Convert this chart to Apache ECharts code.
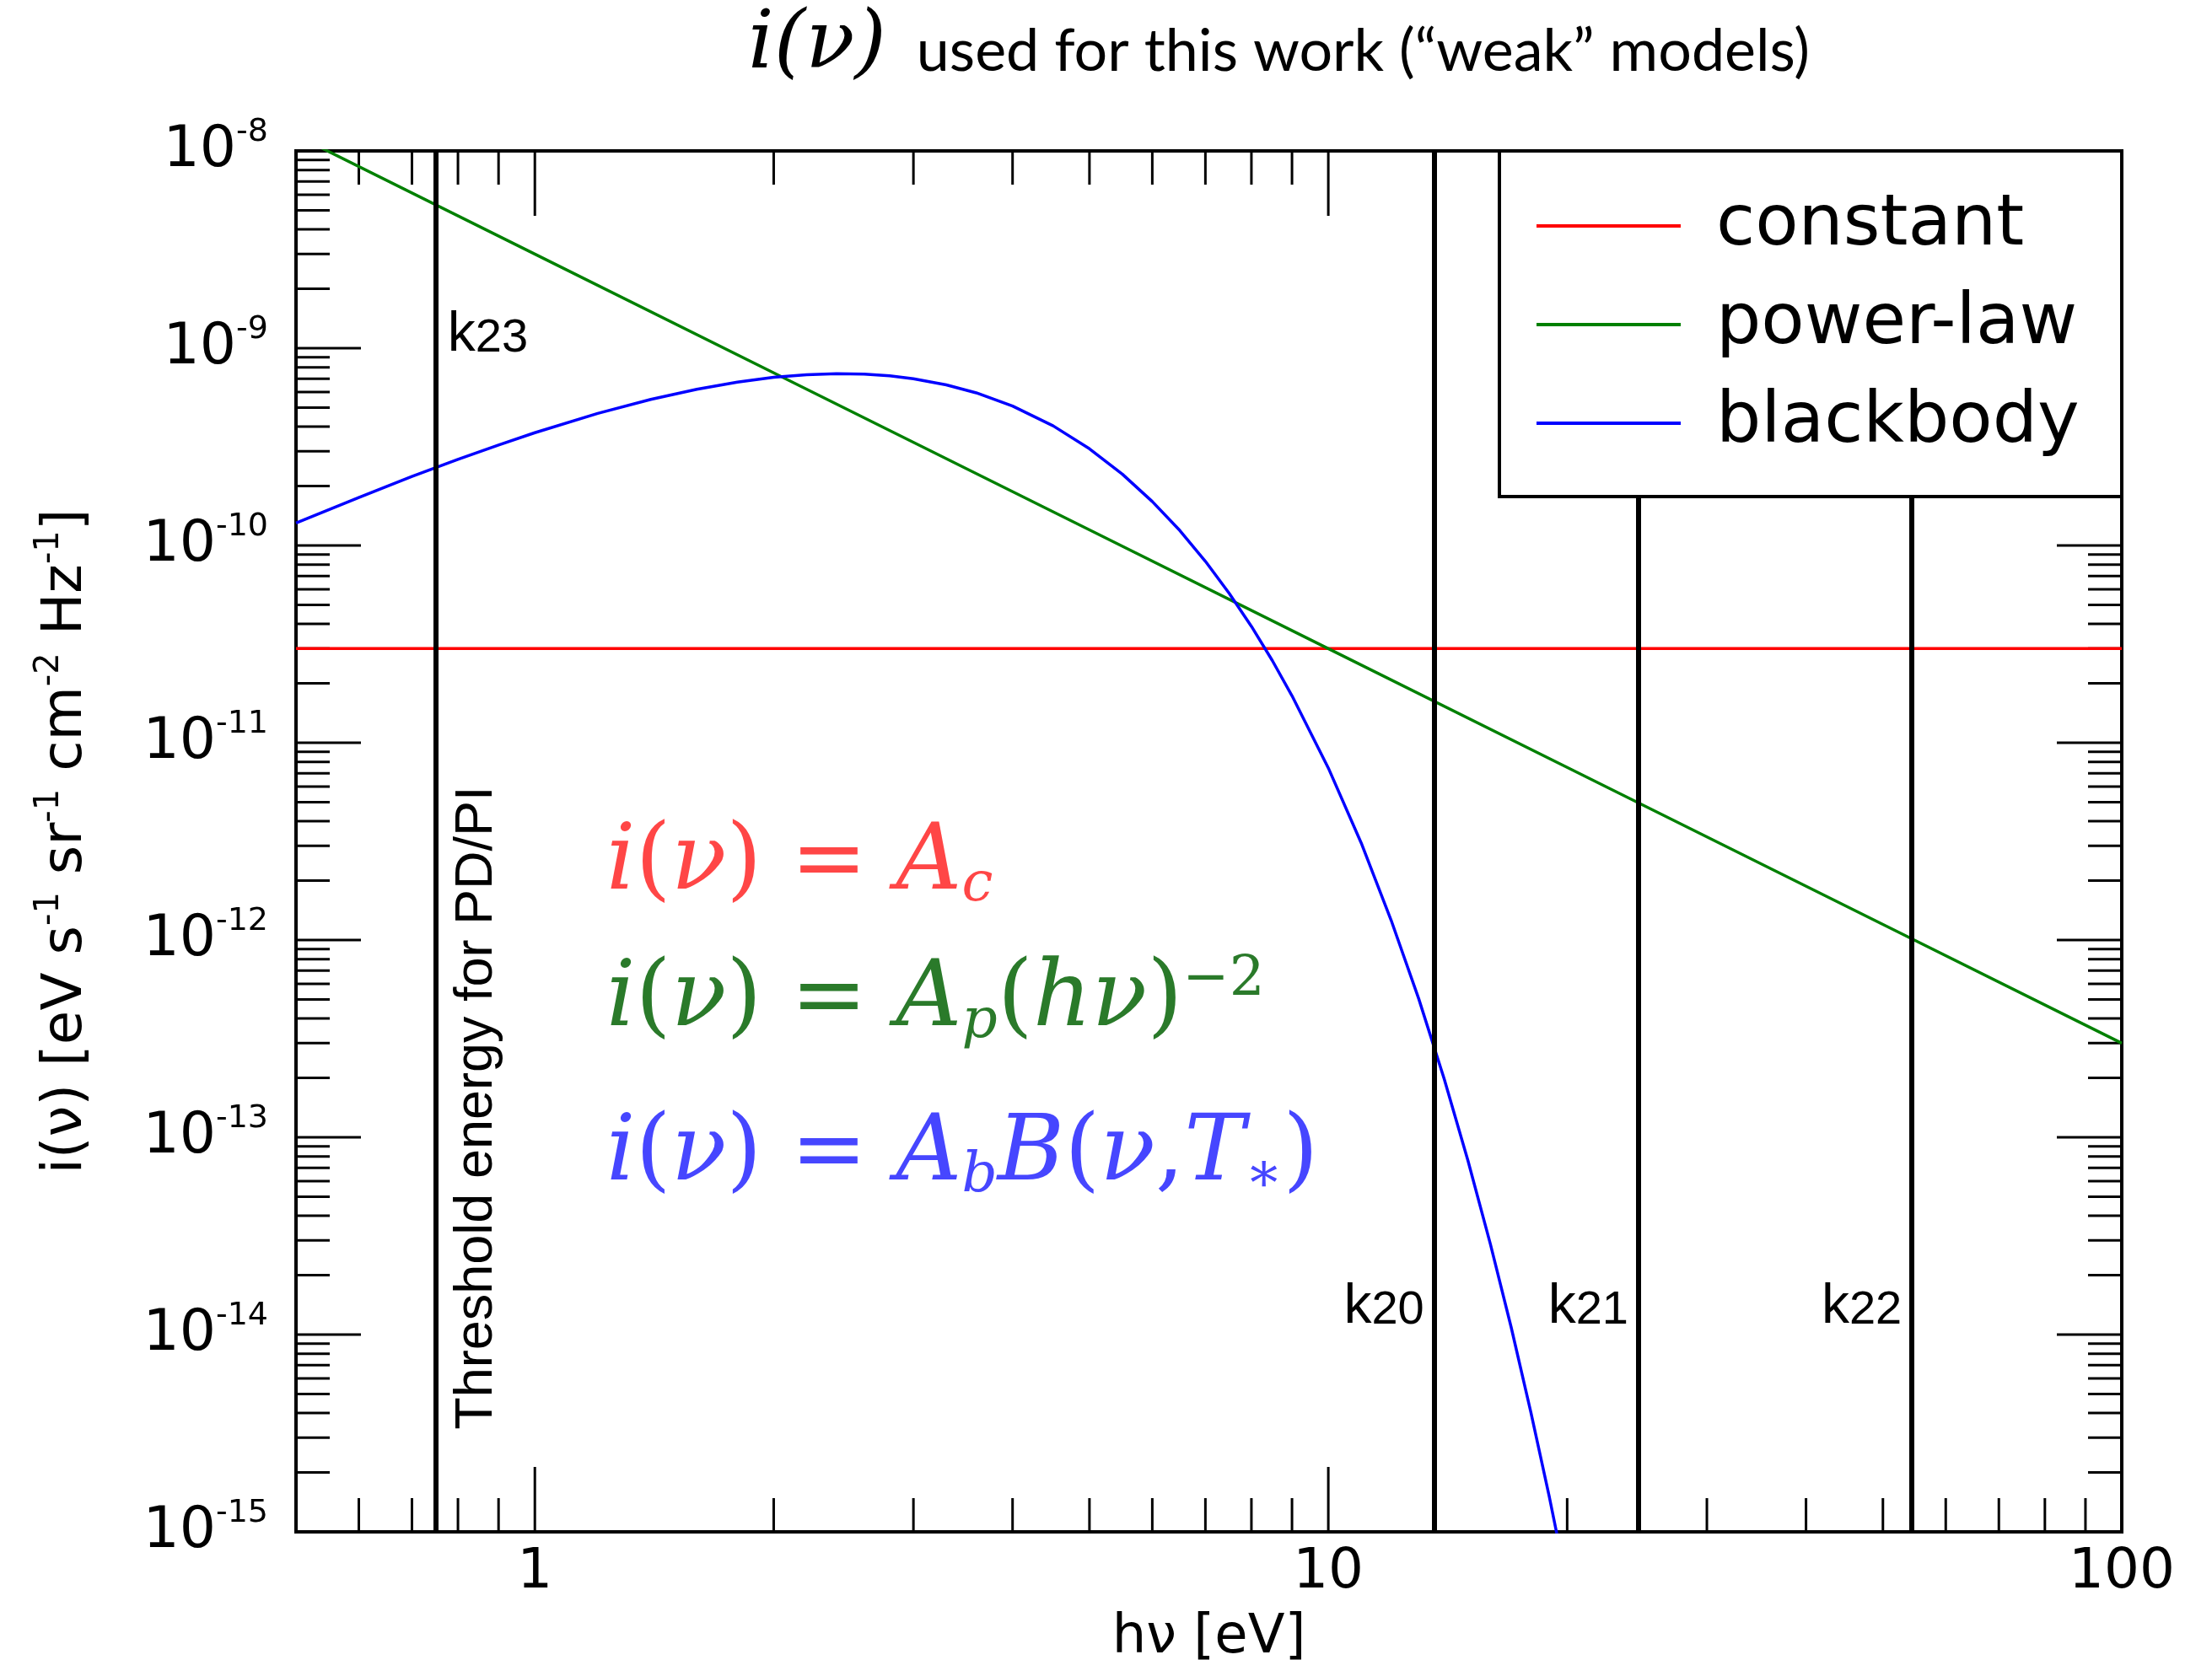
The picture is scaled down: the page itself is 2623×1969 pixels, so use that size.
<!DOCTYPE html>
<html><head><meta charset="utf-8">
<script src="https://cdn.jsdelivr.net/npm/echarts/dist/echarts.min.js"></script>
<style>html,body{margin:0;padding:0;background:#fff}#c{width:2623px;height:1969px}</style>
</head><body><div id="c"></div>
<script>
// ---------- data ----------
const X_MIN = 0.5, X_MAX = 100;
const Y_MIN = 1e-15, Y_MAX = 1e-8;

const seriesNames = ['constant', 'power-law', 'blackbody'];

const constantHv = [0.5, 100];
const constantI  = [3e-11, 3e-11];

const powerHv = [0.5, 1, 2, 5, 10, 20, 50, 100];
const powerI  = [1.2e-8, 3e-9, 7.5e-10, 1.2e-10, 3e-11, 7.5e-12, 1.2e-12, 3e-13];

const bbHv = [0.5,0.6,0.7,0.8,0.9,1.0,1.2,1.4,1.6,1.8,2.0,2.2,2.4,2.6,2.8,3.0,3.3,3.6,4.0,4.5,
              5,5.5,6,6.5,7,7.5,8,8.5,9,10,11,12,13,14,15,16,17,18,19,20];
const bbI  = [1.30e-10,1.75e-10,2.24e-10,2.73e-10,3.23e-10,3.73e-10,4.67e-10,5.50e-10,6.19e-10,6.73e-10,
              7.12e-10,7.34e-10,7.43e-10,7.39e-10,7.24e-10,7.00e-10,6.52e-10,5.94e-10,5.09e-10,4.04e-10,
              3.09e-10,2.30e-10,1.67e-10,1.19e-10,8.31e-11,5.72e-11,3.89e-11,2.61e-11,1.73e-11,7.45e-12,
              3.11e-12,1.26e-12,5.04e-13,1.97e-13,7.59e-14,2.89e-14,1.09e-14,4.04e-15,1.49e-15,5.4e-16];

const thresholdHv   = [0.754, 13.6, 24.6, 54.4];
const thresholdName = ['k23', 'k20', 'k21', 'k22'];
const thresholdLabI = [1.16e-9, 1.37e-14, 1.37e-14, 1.37e-14];

const pdpiText = 'Threshold energy for PD/PI';
const pdpiPos  = [0.846, 1.41e-13];

const xMajorTicks = [1, 10, 100];
const xMinorTicks = [0.6,0.7,0.8,0.9,2,3,4,5,6,7,8,9,20,30,40,50,60,70,80,90];
const yMajorTicks = [1e-15,1e-14,1e-13,1e-12,1e-11,1e-10,1e-9,1e-8];
const yMinorMantissa = [2,3,4,5,6,7,8,9];
const yMinorDecades  = [1e-15,1e-14,1e-13,1e-12,1e-11,1e-10,1e-9];

// ---------- styling ----------
const RED = '#ff0000', GREEN = '#008000', BLUE = '#0000ff';
const EQ_RED = '#ff4646', EQ_GREEN = '#2a7a2a', EQ_BLUE = '#4646ff';

const yMinorTicks = [];
yMinorDecades.forEach(d => yMinorMantissa.forEach(m => yMinorTicks.push(m * d)));

function zip(a, b) { return a.map((v, i) => [v, b[i]]); }

function isPow10(v) {
  const l = Math.log10(v);
  return Math.abs(l - Math.round(l)) < 1e-6;
}

function xTick(params, api) {
  const cs = params.coordSys;
  const x = api.coord([api.value(0), Y_MIN])[0];
  const len = api.value(2) ? 77 : 40;
  const st = { stroke: '#000', lineWidth: 3 };
  return { type: 'group', children: [
    { type: 'line', shape: { x1: x, y1: cs.y + cs.height, x2: x, y2: cs.y + cs.height - len }, style: st },
    { type: 'line', shape: { x1: x, y1: cs.y, x2: x, y2: cs.y + len }, style: st }
  ]};
}
function yTick(params, api) {
  const cs = params.coordSys;
  const y = api.coord([X_MIN, api.value(1)])[1];
  const len = api.value(2) ? 77 : 40;
  const st = { stroke: '#000', lineWidth: 3 };
  return { type: 'group', children: [
    { type: 'line', shape: { x1: cs.x, y1: y, x2: cs.x + len, y2: y }, style: st },
    { type: 'line', shape: { x1: cs.x + cs.width, y1: y, x2: cs.x + cs.width - len, y2: y }, style: st }
  ]};
}

const eqFont = '"DejaVu Serif"';
function eqRich(color) {
  return {
    it:  { fontFamily: eqFont, fontStyle: 'italic', fontWeight: 'normal', fontSize: 108, lineHeight: 124, color: color },
    up:  { fontFamily: eqFont, fontWeight: 'normal', fontSize: 108, lineHeight: 124, color: color },
    sub: { fontFamily: eqFont, fontStyle: 'italic', fontWeight: 'normal', fontSize: 66, lineHeight: 66, color: color, padding: [50, 0, 0, 0] },
    sup: { fontFamily: eqFont, fontWeight: 'normal', fontSize: 66, lineHeight: 66, color: color, padding: [0, 0, 50, 0] }
  };
}

const chart = echarts.init(document.getElementById('c'), null, { renderer: 'canvas' });

chart.setOption({
  backgroundColor: '#fff',
  animation: false,
  title: [
    {
      left: 887, top: 7, padding: 0,
      text: '{m|i(ν)}{t|  used for this work (“weak” models)}',
      textStyle: { fontWeight: 'normal', rich: {
        m: { fontFamily: eqFont, fontStyle: 'italic', fontWeight: 'normal', fontSize: 96, color: '#000' },
        t: { fontFamily: 'Lato', fontWeight: 'normal', fontSize: 70, color: '#000', padding: [12, 0, 0, 0] }
      } }
    },
    {
      left: 719, top: 964, padding: 0,
      text: '{it|i}{up|(}{it|ν}{up|) = }{it|A}{sub|c}',
      textStyle: { fontWeight: 'normal', rich: eqRich(EQ_RED) }
    },
    {
      left: 719, top: 1126, padding: 0,
      text: '{it|i}{up|(}{it|ν}{up|) = }{it|A}{sub|p}{up|(}{it|hν}{up|)}{sup|−2}',
      textStyle: { fontWeight: 'normal', rich: eqRich(EQ_GREEN) }
    },
    {
      left: 719, top: 1309, padding: 0,
      text: '{it|i}{up|(}{it|ν}{up|) = }{it|A}{sub|b}{it|B}{up|(}{it|ν}{up|,}{it|T}{sub|∗}{up|)}',
      textStyle: { fontWeight: 'normal', rich: eqRich(EQ_BLUE) }
    }
  ],
  legend: {
    orient: 'vertical', left: 1822, top: 218, padding: 0, itemGap: 17,
    itemWidth: 171, itemHeight: 4, icon: 'rect', z: 150,
    data: seriesNames,
    textStyle: { fontSize: 84, fontFamily: 'DejaVu Sans', color: '#000', lineHeight: 100, padding: [0, 0, 0, 37] }
  },
  graphic: [
    { type: 'rect', z: 100, shape: { x: 1778, y: 179, width: 738, height: 410 },
      style: { fill: '#fff', stroke: '#000', lineWidth: 4 } }
  ],
  grid: { left: 351, right: 107, top: 179, bottom: 152, outerBoundsMode: 'none', containLabel: false,
          show: true, borderColor: '#000', borderWidth: 4, backgroundColor: 'transparent' },
  xAxis: {
    type: 'log', logBase: 10, min: X_MIN, max: X_MAX,
    axisLine: { show: false }, axisTick: { show: false }, splitLine: { show: false }, minorTick: { show: false },
    axisLabel: {
      margin: 16, fontSize: 66, fontFamily: 'DejaVu Sans', color: '#000',
      formatter: v => isPow10(v) ? String(Math.round(v)) : ''
    },
    name: 'hν [eV]', nameLocation: 'middle', nameGap: 94,
    nameTextStyle: { fontSize: 64, fontFamily: 'DejaVu Sans', color: '#000' }
  },
  yAxis: {
    type: 'log', logBase: 10, min: Y_MIN, max: Y_MAX,
    axisLine: { show: false }, axisTick: { show: false }, splitLine: { show: false }, minorTick: { show: false },
    axisLabel: {
      margin: 33, color: '#000',
      formatter: v => isPow10(v) ? '{b|10}{s|' + Math.round(Math.log10(v)) + '}' : '',
      rich: {
        b: { fontSize: 68, fontFamily: 'DejaVu Sans', color: '#000' },
        s: { fontSize: 38, fontFamily: 'DejaVu Sans', color: '#000', padding: [0, 0, 44, 0] }
      }
    },
    name: '{n|i(ν) [eV s}{s|-1}{n| sr}{s|-1}{n| cm}{s|-2}{n| Hz}{s|-1}{n|]}',
    nameLocation: 'middle', nameGap: 232, nameRotate: 90,
    nameTextStyle: { rich: {
      n: { fontSize: 66, fontFamily: 'DejaVu Sans', color: '#000' },
      s: { fontSize: 40, fontFamily: 'DejaVu Sans', color: '#000', padding: [0, 0, 40, 0] }
    } }
  },
  series: [
    {
      name: 'constant', type: 'line', symbol: 'none', clip: true,
      data: zip(constantHv, constantI),
      lineStyle: { color: RED, width: 3.5 }, itemStyle: { color: RED }, z: 3,
      markLine: {
        silent: true, symbol: ['none', 'none'], animation: false,
        lineStyle: { color: '#000', width: 6, type: 'solid' },
        label: { show: false },
        data: thresholdHv.map(v => ({ xAxis: v }))
      }
    },
    {
      name: 'power-law', type: 'line', symbol: 'none', clip: true,
      data: zip(powerHv, powerI),
      lineStyle: { color: GREEN, width: 3.5 }, itemStyle: { color: GREEN }, z: 3
    },
    {
      name: 'blackbody', type: 'line', symbol: 'none', clip: true,
      data: zip(bbHv, bbI),
      lineStyle: { color: BLUE, width: 3.5 }, itemStyle: { color: BLUE }, z: 3
    },
    {
      name: 'k-labels', type: 'scatter', symbolSize: 0, silent: true, z: 5,
      itemStyle: { opacity: 1 },
      data: thresholdHv.map((v, i) => ({
        name: thresholdName[i], value: [v, thresholdLabI[i]],
        label: { position: i === 0 ? 'right' : 'left' }
      })),
      label: {
        show: true, distance: 12, color: '#000', opacity: 1,
        formatter: p => '{k|k}{d|' + p.name.slice(1) + '}',
        rich: {
          k: { fontSize: 66, fontFamily: 'Liberation Sans', color: '#000' },
          d: { fontSize: 56, fontFamily: 'Liberation Sans', color: '#000', padding: [8, 0, 0, 0] }
        }
      }
    },
    {
      name: 'pdpi-label', type: 'scatter', symbolSize: 0, silent: true, z: 5,
      itemStyle: { opacity: 1 },
      data: [{ name: pdpiText, value: pdpiPos }],
      label: { show: true, position: 'inside', rotate: 90, formatter: p => p.name, opacity: 1,
               fontSize: 63, fontFamily: 'Liberation Sans', color: '#000' }
    },
    {
      name: 'x-ticks', type: 'custom', silent: true, z: 1,
      renderItem: xTick, encode: { x: 0, y: 1 },
      data: xMajorTicks.map(v => [v, Y_MIN, 1]).concat(xMinorTicks.map(v => [v, Y_MIN, 0]))
    },
    {
      name: 'y-ticks', type: 'custom', silent: true, z: 1,
      renderItem: yTick, encode: { x: 0, y: 1 },
      data: yMajorTicks.map(v => [X_MIN, v, 1]).concat(yMinorTicks.map(v => [X_MIN, v, 0]))
    }
  ]
});
</script>
</body></html>
